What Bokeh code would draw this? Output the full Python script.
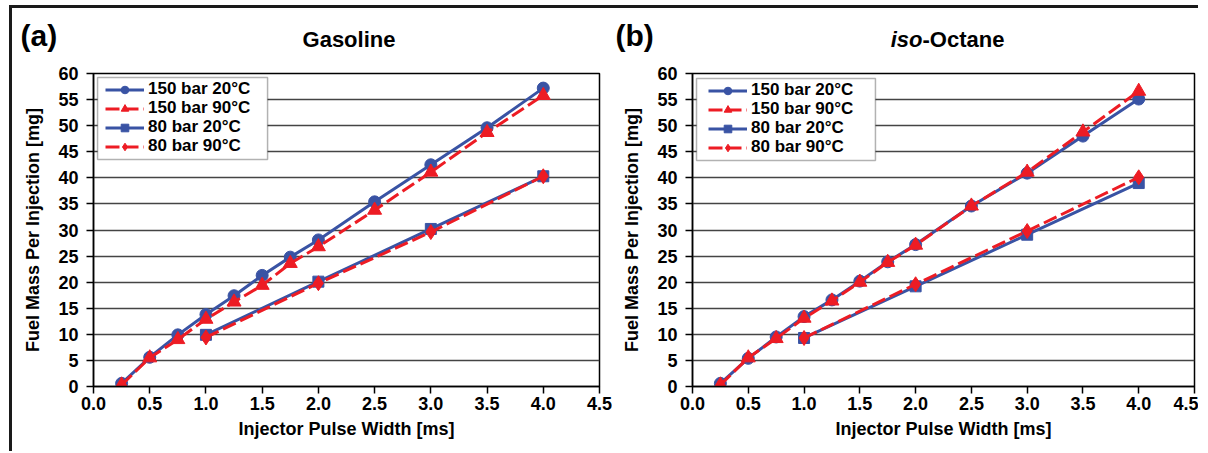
from bokeh.plotting import figure
from bokeh.models import (FixedTicker, PrintfTickFormatter, Legend, LegendItem,
                          BoxAnnotation)
from bokeh.layouts import row, column
from bokeh.embed import file_html
from bokeh.resources import INLINE
from bokeh.core.properties import value

# ---------------- data ----------------
pulse_150 = [0.25, 0.5, 0.75, 1.0, 1.25, 1.5, 1.75, 2.0, 2.5, 3.0, 3.5, 4.0]
pulse_80 = [1.0, 2.0, 3.0, 4.0]

gas_150_20 = [0.6, 5.6, 9.9, 13.8, 17.4, 21.3, 24.8, 28.1, 35.4, 42.5, 49.6, 57.2]
gas_150_90 = [0.3, 5.5, 9.0, 12.9, 16.2, 19.4, 23.6, 26.8, 33.8, 41.1, 48.7, 55.8]
gas_80_20 = [9.9, 20.1, 30.2, 40.3]
gas_80_90 = [9.4, 19.8, 29.6, 40.3]

iso_150_20 = [0.6, 5.4, 9.5, 13.4, 16.6, 20.2, 23.9, 27.2, 34.6, 40.9, 48.0, 55.1]
iso_150_90 = [0.3, 5.5, 9.2, 13.1, 16.4, 20.0, 23.8, 27.1, 34.6, 41.1, 48.8, 56.6]
iso_80_20 = [9.3, 19.2, 29.1, 39.0]
iso_80_90 = [9.3, 19.6, 29.8, 40.1]

series_labels = ["150 bar 20°C", "150 bar 90°C", "80 bar 20°C", "80 bar 90°C"]
x_ticks = [0.0, 0.5, 1.0, 1.5, 2.0, 2.5, 3.0, 3.5, 4.0, 4.5]
y_ticks = [0, 5, 10, 15, 20, 25, 30, 35, 40, 45, 50, 55, 60]
x_label = "Injector Pulse Width [ms]"
y_label = "Fuel Mass Per Injection [mg]"
panel_tags = ["(a)", "(b)"]
panel_titles = ["Gasoline", "iso", "-Octane"]

BLUE = "#3953a4"
RED = "#ed1c24"
FONT = "Liberation Sans"
STRIP_H = 50
H = 383
TOP = 15
BOTTOM = 55
W1, W2 = 600, 586
FRAME_H = H - TOP - BOTTOM
ROW_PITCH = 19
ROW_H = 19
LEG_FONT = "17px"


def make_panel(s150_20, s150_90, s80_20, s80_90, width, left, right,
               leg_x, leg_top, box):
    p = figure(width=width, height=H, x_range=(0, 4.5), y_range=(0, 60),
               output_backend="svg", toolbar_location=None,
               min_border_left=left, min_border_right=right,
               min_border_top=TOP, min_border_bottom=BOTTOM)
    p.background_fill_color = "white"
    p.border_fill_color = "white"
    p.outline_line_color = "black"
    p.outline_line_width = 1.5

    p.xgrid.visible = False
    p.ygrid.ticker = FixedTicker(ticks=y_ticks)
    p.ygrid.grid_line_color = "#444444"
    p.ygrid.grid_line_width = 1.6

    p.xaxis.ticker = FixedTicker(ticks=x_ticks)
    p.xaxis.formatter = PrintfTickFormatter(format="%.1f")
    p.yaxis.ticker = FixedTicker(ticks=y_ticks)
    p.yaxis.formatter = PrintfTickFormatter(format="%d")
    p.xaxis.axis_label = x_label
    p.yaxis.axis_label = y_label
    for ax in (p.xaxis, p.yaxis):
        ax.axis_line_color = "black"
        ax.axis_line_width = 1.5
        ax.major_tick_line_color = "black"
        ax.major_tick_line_width = 1.5
        ax.major_tick_out = 7
        ax.major_tick_in = 0
        ax.minor_tick_line_color = None
        ax.major_label_text_font = FONT
        ax.major_label_text_font_style = "bold"
        ax.major_label_text_font_size = "18px"
        ax.major_label_text_color = "black"
        ax.axis_label_text_font = FONT
        ax.axis_label_text_font_style = "bold"
        ax.axis_label_text_font_size = "18px"
        ax.axis_label_text_color = "black"
    p.xaxis.major_label_standoff = 3
    p.xaxis.axis_label_standoff = 6
    p.yaxis.major_label_standoff = 8
    p.yaxis.axis_label_standoff = 12

    l1 = p.line(pulse_150, s150_20, line_color=BLUE, line_width=3)
    m1 = p.scatter(pulse_150, s150_20, marker="circle", size=12, color=BLUE)
    l3 = p.line(pulse_80, s80_20, line_color=BLUE, line_width=3)
    m3 = p.scatter(pulse_80, s80_20, marker="square", size=11, color=BLUE)
    l2 = p.line(pulse_150, s150_90, line_color=RED, line_width=3, line_dash="14 5")
    m2 = p.scatter(pulse_150, s150_90, marker="triangle", size=14, color=RED)
    l4 = p.line(pulse_80, s80_90, line_color=RED, line_width=3, line_dash="14 5")
    m4 = p.scatter(pulse_80, s80_90, marker="diamond", size=15, color=RED)

    # legend frame (white box with black border)
    p.add_layout(BoxAnnotation(left=box[0], right=box[1], top=box[2], bottom=box[3],
                               fill_color="white", fill_alpha=1.0,
                               line_color="black", line_width=1.5))
    # one legend per entry so the rows can sit as tightly as in the original
    rends = [[l1, m1], [l2, m2], [l3, m3], [l4, m4]]
    for i, (lab, rr) in enumerate(zip(series_labels, rends)):
        center_from_top = leg_top + i * ROW_PITCH
        vy = FRAME_H - (center_from_top + ROW_H / 2)
        leg = Legend(items=[LegendItem(label=lab, renderers=rr)],
                     location=(leg_x, vy), margin=0, padding=0, spacing=0,
                     glyph_width=39, glyph_height=19, label_height=19,
                     label_standoff=4, label_text_font=FONT,
                     label_text_font_style="bold", label_text_font_size=LEG_FONT,
                     label_text_color="black", border_line_color=None,
                     background_fill_alpha=0.0)
        p.add_layout(leg)
    return p


p1 = make_panel(gas_150_20, gas_150_90, gas_80_20, gas_80_90,
                width=W1, left=81, right=13, leg_x=12, leg_top=16.5,
                box=(0.036, 1.548, 59.23, 43.51))
p2 = make_panel(iso_150_20, iso_150_90, iso_80_20, iso_80_90,
                width=W2, left=80, right=4, leg_x=16, leg_top=17.5,
                box=(0.036, 1.640, 59.04, 43.32))

# title strip (panel tags and titles), coordinates in pixels of the strip
strip = figure(width=W1 + W2, height=STRIP_H, x_range=(0, W1 + W2),
               y_range=(0, STRIP_H), output_backend="svg", toolbar_location=None,
               min_border=0)
strip.axis.visible = False
strip.grid.visible = False
strip.outline_line_color = None
strip.border_fill_color = "white"
strip.text(x=[8, 603], y=[23.5, 23.5], text=panel_tags, text_font=value(FONT),
           text_font_style="bold", text_font_size="30px", text_align="left",
           text_baseline="middle", text_color="black")
strip.text(x=[336.5], y=[19], text=[panel_titles[0]], text_font=value(FONT),
           text_font_style="bold", text_font_size="22px", text_align="center",
           text_baseline="middle", text_color="black")
strip.text(x=[910], y=[19], text=[panel_titles[1]], text_font=value(FONT),
           text_font_style="bold italic", text_font_size="22px", text_align="right",
           text_baseline="middle", text_color="black")
strip.text(x=[910], y=[19], text=[panel_titles[2]], text_font=value(FONT),
           text_font_style="bold", text_font_size="22px", text_align="left",
           text_baseline="middle", text_color="black")

layout = column(strip, row(p1, p2, spacing=0), spacing=0,
                styles={"border-top": "3px solid #1a1a1a",
                        "border-left": "3px solid #1a1a1a",
                        "margin-top": "5px", "margin-left": "9px",
                        "padding-bottom": "10px"})

open("out.html", "w").write(file_html(layout, INLINE))
